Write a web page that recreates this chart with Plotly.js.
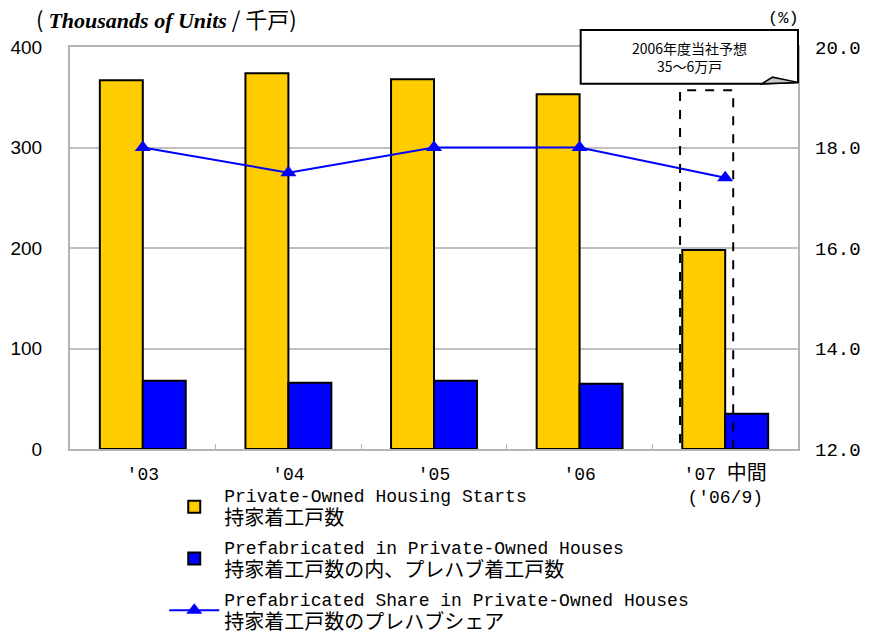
<!DOCTYPE html>
<html>
<head>
<meta charset="utf-8">
<script src="https://cdn.plot.ly/plotly-3.0.1.min.js"></script>
<style>
  html, body { margin: 0; padding: 0; background: #fff; }
  #chart { width: 869px; height: 637px; }
</style>
</head>
<body>
<div id="chart"></div>
<script>
// Fiscal years on the category axis
const years = ["'03", "'04", "'05", "'06", "'07 <span style=\"font-size:20px\">中間</span><br>('06/9)"];

// Thousands of units
const privateStarts = [367, 374, 368, 353, 198];
const prefabStarts = [68, 66, 68, 65, 35];

// Prefab share, %
const prefabShare = [18.0, 17.5, 18.0, 18.0, 17.4];

const monoFont = 'Liberation Mono, "Noto Sans CJK JP", monospace';
const jp = s => '<span style="font-size:20px">' + s + '</span>';

const traces = [
  {
    name: 'Private-Owned Housing Starts<br>' + jp('持家着工戸数'),
    legendgroup: 'a',
    x: years,
    y: privateStarts,
    type: 'bar',
    marker: { color: '#FFCC00', line: { color: '#000', width: 2 } }
  },
  {
    name: 'Prefabricated in Private-Owned Houses<br>' + jp('持家着工戸数の内、プレハブ着工戸数'),
    legendgroup: 'b',
    x: years,
    y: prefabStarts,
    type: 'bar',
    marker: { color: '#0000FF', line: { color: '#000', width: 2 } }
  },
  {
    name: 'Prefabricated Share in Private-Owned Houses<br>' + jp('持家着工戸数のプレハブシェア'),
    legendgroup: 'c',
    x: years,
    y: prefabShare,
    yaxis: 'y2',
    type: 'scatter',
    mode: 'lines+markers',
    line: { color: '#0000FF', width: 2 },
    marker: { symbol: 'triangle-up', size: 14, color: '#0000FF' }
  }
];

const layout = {
  width: 869,
  height: 637,
  margin: { l: 70, r: 71, t: 47, b: 188, autoexpand: false },
  paper_bgcolor: '#fff',
  plot_bgcolor: '#fff',
  barmode: 'group',
  bargap: 0.41,
  bargroupgap: 0,
  font: { family: monoFont, size: 18, color: '#000' },
  xaxis: {
    type: 'category',
    automargin: false,
    showline: true,
    linecolor: '#b4b4b4',
    linewidth: 2,
    mirror: true,
    ticks: 'inside',
    tickson: 'boundaries',
    ticklen: 5,
    tickcolor: '#b4b4b4',
    tickfont: { family: monoFont, size: 18 },
    ticklabelstandoff: 7
  },
  yaxis: {
    automargin: false,
    range: [0, 400],
    dtick: 100,
    showgrid: true,
    gridcolor: '#c0c0c0',
    gridwidth: 2,
    showline: true,
    linecolor: '#b4b4b4',
    linewidth: 2,
    mirror: true,
    zeroline: false,
    tickfont: { family: 'Liberation Sans, Arial, sans-serif', size: 19 },
    ticklabelstandoff: 22
  },
  yaxis2: {
    automargin: false,
    overlaying: 'y',
    side: 'right',
    range: [12, 20],
    dtick: 2,
    tickformat: '.1f',
    showgrid: false,
    zeroline: false,
    tickfont: { family: monoFont, size: 19 },
    ticklabelstandoff: 16
  },
  showlegend: true,
  legend: {
    xref: 'container',
    yref: 'container',
    x: 0.189,
    y: 0.2515,
    xanchor: 'left',
    yanchor: 'top',
    bgcolor: 'rgba(0,0,0,0)',
    font: { family: monoFont, size: 18 },
    traceorder: 'grouped',
    tracegroupgap: 2,
    itemwidth: 50
  },
  shapes: [
    // dashed frame around the interim bar
    {
      type: 'rect', xref: 'x', yref: 'y',
      x0: 3.69, x1: 4.055, y0: -1, y1: 357,
      line: { color: '#000', width: 2, dash: 'dash' },
      layer: 'above'
    },
    // callout box
    {
      type: 'path', xref: 'paper', yref: 'paper',
      path: 'M 0.7015,1.042 L 1,1.042 L 1,0.912 L 0.9505,0.9085 L 0.7015,0.9085 Z',
      fillcolor: '#fff',
      line: { color: '#000', width: 2 },
      layer: 'above'
    },
    {
      type: 'path', xref: 'paper', yref: 'paper',
      path: 'M 0.9505,0.9085 L 0.965,0.925 L 1,0.912 Z',
      fillcolor: '#c8c8c8',
      line: { color: '#000', width: 1.5 },
      layer: 'above'
    }
  ],
  annotations: [
    {
      xref: 'paper', yref: 'paper', x: -0.05, y: 1.072,
      xanchor: 'left', yanchor: 'middle', showarrow: false,
      text: '( <span style="font-family:Liberation Serif"><b><i>Thousands of Units</i></b></span> / 千戸)',
      font: { family: '"Noto Sans CJK JP", sans-serif', size: 22 }
    },
    {
      xref: 'paper', yref: 'paper', x: 0.98, y: 1.072,
      xanchor: 'center', yanchor: 'middle', showarrow: false,
      text: '(%)',
      font: { family: monoFont, size: 17 }
    },
    {
      xref: 'paper', yref: 'paper', x: 0.8505, y: 0.976,
      xanchor: 'center', yanchor: 'middle', showarrow: false,
      text: '2006年度当社予想<br>35～6万戸',
      font: { family: '"Noto Sans CJK JP", sans-serif', size: 14 }
    }
  ]
};

Plotly.newPlot('chart', traces, layout, { displayModeBar: false, staticPlot: true });
</script>
</body>
</html>
